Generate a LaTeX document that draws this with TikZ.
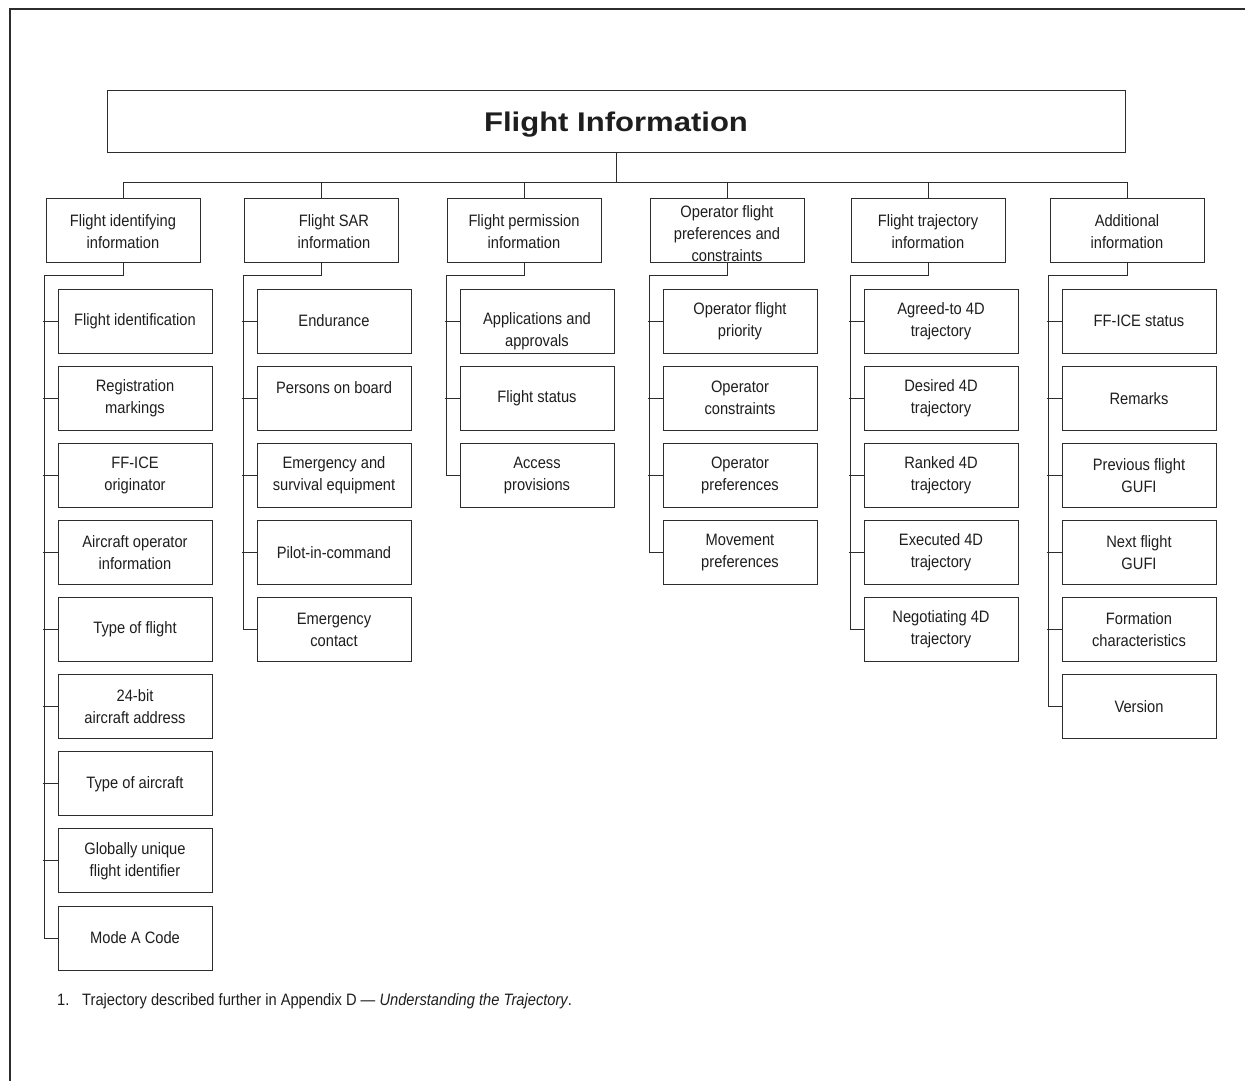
\documentclass[tikz,border=0pt]{standalone}
\usepackage{fontspec}
\setmainfont{Liberation Sans}
\newfontfamily\bodyfont[FakeStretch=0.89]{Liberation Sans}
\newfontfamily\titlefont[FakeStretch=1.15]{Liberation Sans}
\definecolor{ink}{RGB}{30,30,30}
\definecolor{edge}{RGB}{45,45,45}
\tikzset{
  box/.style={draw=edge, line width=0.9pt, minimum width=154pt, minimum height=64pt, inner sep=0pt},
  txt/.style={text=ink, align=center, inner sep=0pt, font=\bodyfont\fontsize{16.5}{22}\selectfont},
  conn/.style={draw=edge, line width=0.9pt},
}
\newcommand\leafbox[5]{%
  \node[box] (#1) at ({#2+77},{321+77.125*#3}) {};
  \node[txt] (#1t) at ({#2+77},{321+77.125*#3+#5}) {#4};
}
\newcommand\topbox[5]{%
  \node[box] (#1) at (#2,230) {};
  \node[txt] (#1t) at ({#2+#4},{232+#5}) {#3};
}
\begin{document}
\begin{tikzpicture}[x=1pt,y=-1pt]
\useasboundingbox (0,0) rectangle (1245,1081);
\fill[white] (0,0) rectangle (1245,1081);
% frame
\draw[draw=edge, line width=1.5pt] (10,1081) -- (10,9) -- (1245,9);
% title
\node[box, minimum width=1018pt, minimum height=62pt] (title) at (616,121) {};
\node[text=ink, inner sep=0pt, font=\titlefont\bfseries\fontsize{27}{30}\selectfont] (titlet) at (616,125) {Flight Information};
% level 1
\topbox{c1}{123}{Flight identifying\\information}{0}{0}
\topbox{c2}{321}{Flight SAR\\information}{13}{0}
\topbox{c3}{524}{Flight permission\\information}{0}{0}
\topbox{c4}{727}{Operator flight\\preferences and\\constraints}{0}{2}
\topbox{c5}{928}{Flight trajectory\\information}{0}{0}
\topbox{c6}{1127}{Additional\\information}{0}{0}
% bus
\draw[conn] (title.south) -- ++(0,31);
\draw[conn] (c1.north) -- ++(0,-15) -| (c6.north);
\foreach \c in {c2,c3,c4,c5} \draw[conn] (\c.north) -- ++(0,-15);
% column 1
\leafbox{a0}{58}{0}{Flight identification}{0}
\leafbox{a1}{58}{1}{Registration\\markings}{0}
\leafbox{a2}{58}{2}{FF-ICE\\originator}{0}
\leafbox{a3}{58}{3}{Aircraft operator\\information}{0}
\leafbox{a4}{58}{4}{Type of flight}{0}
\leafbox{a5}{58}{5}{24-bit\\aircraft address}{0}
\leafbox{a6}{58}{6}{Type of aircraft}{0}
\leafbox{a7}{58}{7}{Globally unique\\flight identifier}{0}
\leafbox{a8}{58}{8}{Mode A Code}{0}
% column 2
\leafbox{b0}{257}{0}{Endurance}{0}
\leafbox{b1}{257}{1}{Persons on board}{-11}
\leafbox{b2}{257}{2}{Emergency and\\survival equipment}{0}
\leafbox{b3}{257}{3}{Pilot-in-command}{0}
\leafbox{b4}{257}{4}{Emergency\\contact}{0}
% column 3
\leafbox{d0}{460}{0}{Applications and\\approvals}{10}
\leafbox{d1}{460}{1}{Flight status}{0}
\leafbox{d2}{460}{2}{Access\\provisions}{0}
% column 4
\leafbox{e0}{663}{0}{Operator flight\\priority}{0}
\leafbox{e1}{663}{1}{Operator\\constraints}{0}
\leafbox{e2}{663}{2}{Operator\\preferences}{0}
\leafbox{e3}{663}{3}{Movement\\preferences}{0}
% column 5
\leafbox{f0}{864}{0}{Agreed-to 4D\\trajectory}{0}
\leafbox{f1}{864}{1}{Desired 4D\\trajectory}{0}
\leafbox{f2}{864}{2}{Ranked 4D\\trajectory}{0}
\leafbox{f3}{864}{3}{Executed 4D\\trajectory}{0}
\leafbox{f4}{864}{4}{Negotiating 4D\\trajectory}{0}
% column 6
\leafbox{g0}{1062}{0}{FF-ICE status}{0}
\leafbox{g1}{1062}{1}{Remarks}{0}
\leafbox{g2}{1062}{2}{Previous flight\\GUFI}{0}
\leafbox{g3}{1062}{3}{Next flight\\GUFI}{0}
\leafbox{g4}{1062}{4}{Formation\\characteristics}{0}
\leafbox{g5}{1062}{5}{Version}{0}
% spines
\draw[conn] (c1.south) -- ++(0,13) -| ([xshift=-13pt]a8.west) -- (a8.west);
\draw[conn] (c2.south) -- ++(0,13) -| ([xshift=-13pt]b4.west) -- (b4.west);
\draw[conn] (c3.south) -- ++(0,13) -| ([xshift=-13pt]d2.west) -- (d2.west);
\draw[conn] (c4.south) -- ++(0,13) -| ([xshift=-13pt]e3.west) -- (e3.west);
\draw[conn] (c5.south) -- ++(0,13) -| ([xshift=-13pt]f4.west) -- (f4.west);
\draw[conn] (c6.south) -- ++(0,13) -| ([xshift=-13pt]g5.west) -- (g5.west);
\foreach \n in {a0,a1,a2,a3,a4,a5,a6,a7,b0,b1,b2,b3,d0,d1,e0,e1,e2,f0,f1,f2,f3,g0,g1,g2,g3,g4}
  \draw[conn] ([xshift=-15pt]\n.west) -- (\n.west);
% footnote
\node[txt, anchor=base west] (fn1) at (57,1005) {1.};
\node[txt, anchor=base west] (fn2) at (82,1005) {Trajectory described further in Appendix D — \textit{Understanding the Trajectory}.};
\end{tikzpicture}
\end{document}
